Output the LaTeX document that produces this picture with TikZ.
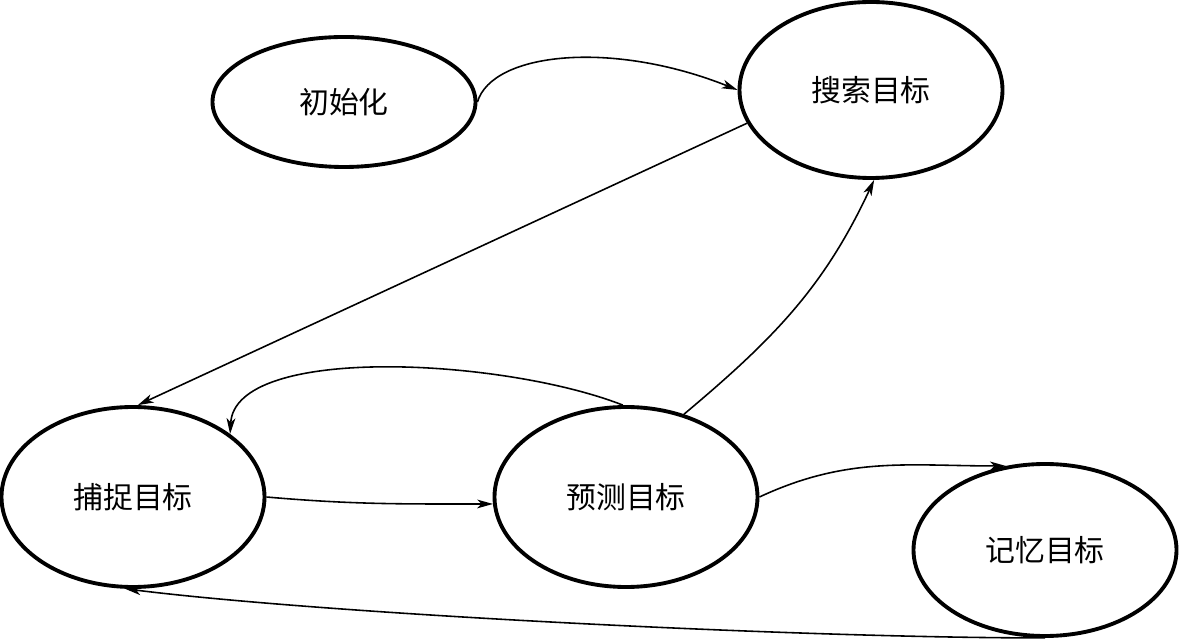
\documentclass[tikz,border=0pt]{standalone}
\usepackage{fontspec}
\usetikzlibrary{shapes.geometric, arrows.meta, positioning}
\newfontfamily\cjk{Noto Sans CJK SC}

\begin{document}
\begin{tikzpicture}[
        state/.style={ellipse, draw, line width=2.2pt, minimum width=5.26cm, minimum height=3.6cm, inner sep=0pt, font=\cjk\fontsize{17}{20}\selectfont},
        arr/.style={-{Stealth[length=9pt, width=5pt, inset=2.5pt]}, line width=0.9pt}
      ]
        \useasboundingbox (0,0) rectangle (23.62,12.76);

        % Nodes
        \node[state, minimum height=2.6cm] (init) at (6.88,10.72) {初始化};
        \node[state, minimum height=3.52cm] (search) at (17.42,10.96) {搜索目标};
        \node[state] (capture) at (2.66,2.82) {捕捉目标};
        \node[state] (predict) at (12.52,2.82) {预测目标};
        \node[state, minimum height=3.44cm] (memory) at (20.90,1.76) {记忆目标};

        % Connections
        \draw[arr] (init.east) .. controls +(0.3,1.0) and +(-2.5,1.0) .. (search.west);
        \draw[arr] (search.195) -- (capture.87);
        \draw[arr] (predict.92) .. controls +(-2.4,0.94) and +(0.1,1.8) .. (capture.33);
        \draw[arr] (predict.55) to[out=40, in=245] (search.272);
        \draw[arr] (capture.east) to[out=-5, in=180] (predict.183);
        \draw[arr] (predict.east) to[out=25, in=180] (memory.115);
        \draw[arr] (memory.south) .. controls +(-5,0) and +(4,-0.5) .. (capture.265);
      \end{tikzpicture}
\end{document}
